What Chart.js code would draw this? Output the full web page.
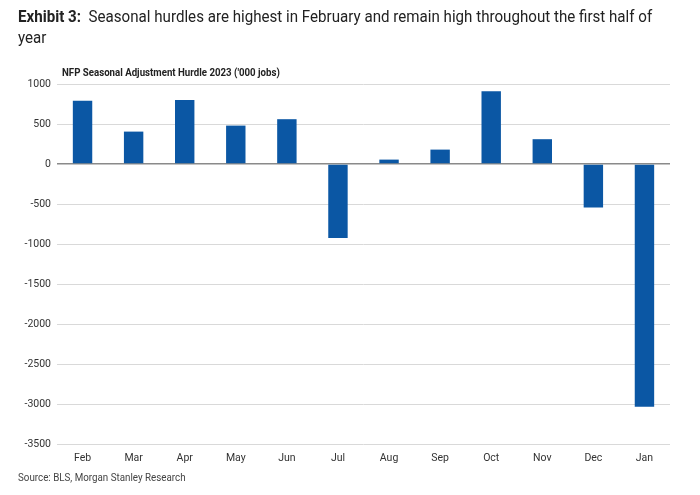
<!DOCTYPE html>
<html>
<head>
<meta charset="utf-8">
<script src="https://cdn.jsdelivr.net/npm/chart.js@4.4.0/dist/chart.umd.min.js"></script>
<style>
  body { margin: 0; background: #fff; }
  #wrap { position: relative; width: 700px; height: 495px; overflow: hidden; }
  #chart { position: absolute; left: 0; top: 0; }
  .txt { position: absolute; white-space: nowrap; font-family: 'Roboto', sans-serif; color: #222; transform-origin: 0 0; }
  #title { left: 18px; top: 6px; font-size: 17px; line-height: 21px; transform: scaleX(0.89); }
  #title b { font-weight: bold; }
  #source { left: 18px; top: 471px; font-size: 11px; color: #444; transform: scaleX(0.89); }
</style>
</head>
<body>
<div id="wrap">
  <canvas id="chart" width="700" height="495"></canvas>
  <div id="title" class="txt"><b>Exhibit 3:</b>&nbsp; Seasonal hurdles are highest in February and remain high throughout the first half of<br>year</div>
  <div id="source" class="txt">Source: BLS, Morgan Stanley Research</div>
</div>
<script>
const months = ['Feb', 'Mar', 'Apr', 'May', 'Jun', 'Jul', 'Aug', 'Sep', 'Oct', 'Nov', 'Dec', 'Jan'];
const hurdle = [790, 405, 800, 480, 560, -925, 55, 180, 910, 310, -545, -3035];
const chartTitle = "NFP Seasonal Adjustment Hurdle 2023 ('000 jobs)";
const font = "'Roboto', sans-serif";

// small label above the plot, squeezed a bit to look like the condensed original
const innerTitle = {
  id: 'innerTitle',
  afterDraw(chart) {
    const c = chart.ctx;
    c.save();
    c.font = 'bold 11px ' + font;
    c.fillStyle = '#222';
    c.textBaseline = 'middle';
    c.translate(chart.chartArea.left + 5, 73);
    c.scale(0.88, 1);
    c.fillText(chartTitle, 0, 0);
    c.restore();
  }
};

const ctx = document.getElementById('chart').getContext('2d');
new Chart(ctx, {
  type: 'bar',
  data: {
    labels: months,
    datasets: [{
      data: hurdle,
      backgroundColor: '#0b57a4',
      barPercentage: 0.38,
      categoryPercentage: 1.0
    }]
  },
  options: {
    responsive: false,
    animation: false,
    layout: { padding: { top: 84, left: 10, right: 30, bottom: 0 } },
    plugins: { legend: { display: false }, tooltip: { enabled: false } },
    scales: {
      x: {
        grid: { display: false, drawTicks: false },
        border: { display: false },
        ticks: { color: '#333', font: { family: font, size: 10.5 }, padding: 8 },
        afterFit(scale) { scale.height = 51; }
      },
      y: {
        min: -3500,
        max: 1000,
        grid: {
          drawTicks: false,
          color: (c) => c.tick && c.tick.value === 0 ? '#8a8a8a' : '#d9d9d9',
          lineWidth: (c) => c.tick && c.tick.value === 0 ? 1.5 : 1
        },
        border: { display: false },
        ticks: {
          stepSize: 500,
          color: '#333',
          font: { family: font, size: 10.5 },
          padding: 6,
          callback: (v) => String(v)
        },
        afterFit(scale) { scale.width = 47; }
      }
    }
  },
  plugins: [innerTitle]
});
</script>
</body>
</html>
